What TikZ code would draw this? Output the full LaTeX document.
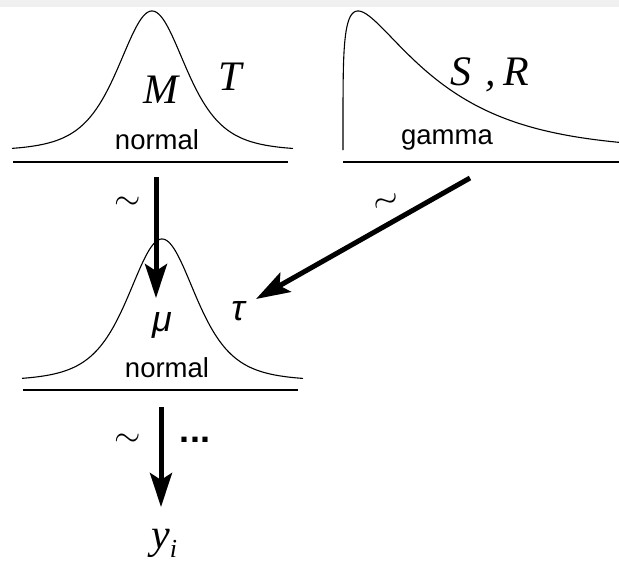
\documentclass[tikz,border=0pt]{standalone}
\usepackage{fontspec}
\setmainfont{Liberation Serif}
\newfontfamily\arialf{Liberation Sans}
\usetikzlibrary{arrows.meta}
\begin{document}
\begin{tikzpicture}[x=1pt,y=-1pt,
  curve/.style={line width=1.1pt, line join=round},
  baseline rule/.style={line width=2pt},
  arr/.style={line width=5pt,-{Stealth[length=34pt,width=22pt,inset=7pt]}},
  lbl/.style={inner sep=0pt, font=\fontsize{42}{42}\selectfont\itshape},
  sans/.style={inner sep=0pt, font=\arialf\fontsize{27.5}{28}\selectfont},
  greek/.style={inner sep=0pt, font=\arialf\itshape\fontsize{36}{36}\selectfont},
  tl/.style={inner sep=0pt}]
\useasboundingbox (0,0) rectangle (619,562);
\fill[black!6] (0,0) rectangle (619,7);

% top-left normal (heavy-tailed bell)
\draw[curve] plot[domain=12:293, samples=160] (\x, {151-140*(1+(((\x-152)/35.4)^2)/4)^(-2.5)});
\draw[baseline rule] (13,162) -- (288,162);
\node[lbl] (M) at (161,90) {M};
\node[lbl] (T) at (230,77) {T};
\node[sans] (n1) at (157,140) {normal};

% top-right gamma
\draw[curve] (343,150) -- plot[domain=0.05:16.65, samples=160, variable=\u] ({343+\u*\u}, {150-139*(\u^0.4)*exp(-\u*\u/75)/1.4072});
\draw[baseline rule] (343,162) -- (619,162);
\node[lbl] (SR) at (490,75) {S\,\,,\,R};
\node[sans] (g) at (447,140) {gamma};

% middle normal
\draw[curve] plot[domain=22:303, samples=160] (\x, {381-142*(1+(((\x-162)/35.4)^2)/4)^(-2.5)});
\draw[baseline rule] (23,390) -- (298,390);
\node[greek] (mu) at (162,325) {μ};
\node[greek] (tau) at (238,311) {τ};
\node[sans] (n2) at (167,368) {normal};

% arrows
\coordinate (a1s) at (156,177);
\coordinate (a1e) at (156,298);
\coordinate (a2s) at (470,178);
\coordinate (a2e) at (256,299);
\coordinate (a3s) at (161,407);
\coordinate (a3e) at (161,507);
\draw[arr] (a1s) -- (a1e);
\draw[arr] (a2s) -- (a2e);
\draw[arr] (a3s) -- (a3e);
\node[tl] (t1) at (128,203) {\scalebox{3.4}{$\sim$}};
\node[tl, rotate=20] (t2) at (387,203) {\scalebox{3.4}{$\sim$}};
\node[tl] (t3) at (128,440) {\scalebox{3.4}{$\sim$}};
\node[inner sep=0pt, font=\arialf\bfseries\fontsize{36}{36}\selectfont, anchor=center] (dots) at (195,440) {...};
\node[lbl, anchor=base west] (y) at (151,548) {y\raisebox{-9pt}{\fontsize{26}{26}\selectfont i}};
\end{tikzpicture}
\end{document}
